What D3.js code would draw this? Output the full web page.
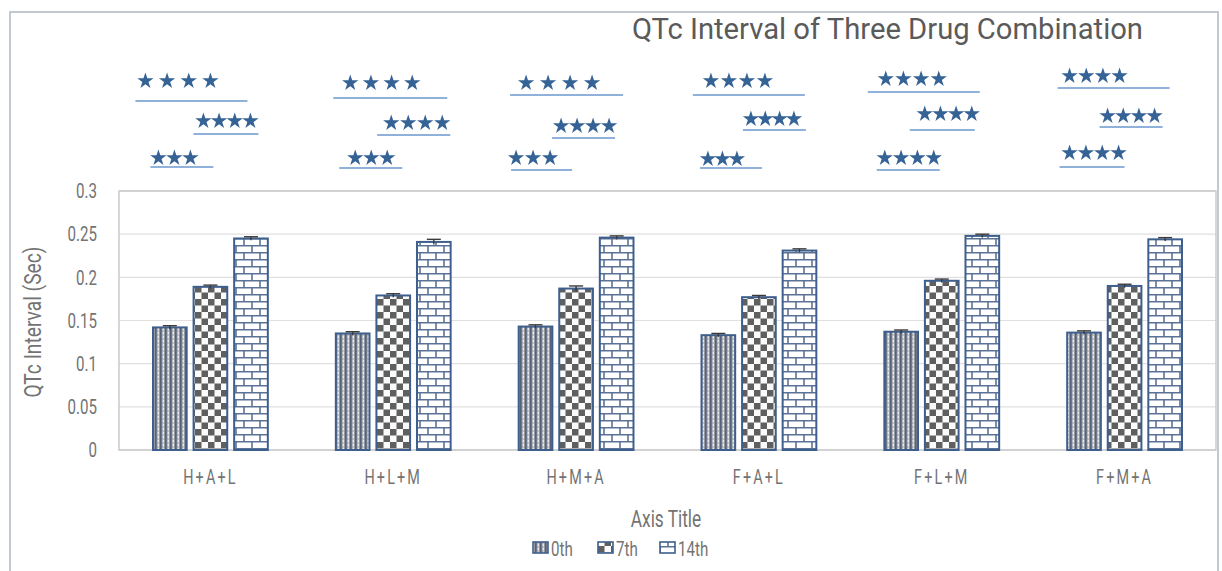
<!DOCTYPE html>
<html>
<head>
<meta charset="utf-8">
<script src="https://cdn.jsdelivr.net/npm/d3@7"></script>
<style>
  html, body { margin: 0; padding: 0; background: #fff; }
  svg { display: block; }
  text { font-family: "Roboto", "DejaVu Sans", sans-serif; font-weight: 400; }
</style>
</head>
<body>
<svg id="chart" width="1222" height="571"></svg>
<script>
// ---- data ----
const categories = ["H+A+L", "H+L+M", "H+M+A", "F+A+L", "F+L+M", "F+M+A"];
const seriesNames = ["0th", "7th", "14th"];
const day0  = [0.142, 0.135, 0.143, 0.133, 0.137, 0.136];
const day7  = [0.189, 0.179, 0.187, 0.177, 0.196, 0.190];
const day14 = [0.245, 0.241, 0.246, 0.231, 0.248, 0.244];
const err0  = [0.002, 0.002, 0.002, 0.002, 0.002, 0.002];
const err7  = [0.002, 0.002, 0.003, 0.002, 0.002, 0.002];
const err14 = [0.002, 0.003, 0.002, 0.002, 0.002, 0.002];
const yTicks = [0, 0.05, 0.1, 0.15, 0.2, 0.25, 0.3];
const yTickLabels = ["0", "0.05", "0.1", "0.15", "0.2", "0.25", "0.3"];

// significance marks: 0th vs 14th, 7th vs 14th, 0th vs 7th
const sig0vs14 = ["****", "****", "****", "****", "****", "****"];
const sig7vs14 = ["****", "****", "****", "****", "****", "****"];
const sig0vs7  = ["***",  "***",  "***",  "***",  "****", "****"];

// placement of the significance brackets relative to each group centre
// [starsFrom, starsTo, starsY, lineFrom, lineTo, lineY]
const sigLayout = [
  [[-73, 8, 80, -75, 37, 101], [-15, 48, 120, -17, 48, 134], [-60, -12, 157, -60, 3, 167]],
  [[-51, 27, 82, -60, 54, 98], [-10, 57, 122, -16, 57, 135], [-46, 2, 157, -54, 9, 168]],
  [[-58, 24, 82, -66, 47, 95], [-23, 41, 125, -24, 39, 138], [-68, -18, 157, -65, -4, 170]],
  [[-56, 14, 80, -66, 46, 95], [-16, 43, 118, -16, 47, 130], [-59, -14, 158, -59, 3, 168]],
  [[-64, 5, 78, -74, 38, 92], [-25, 38, 113, -32, 33, 130], [-65, 0, 157, -65, -2, 170]],
  [[-63, 3, 75, -67, 45, 88], [-25, 38, 115, -25, 38, 127], [-63, 2, 152, -65, 0, 167]]
];

const values = [day0, day7, day14];
const errors = [err0, err7, err14];

// ---- layout ----
const svg = d3.select("#chart");
const plot = { left: 119, right: 1216, top: 191, bottom: 450 };
const textGrey = "#737373";
const squeeze = 0.72;   // horizontal compression for the narrow lettering

const x = d3.scaleBand().domain(categories).range([plot.left, plot.right]);
const xs = d3.scaleBand().domain(seriesNames)
  .range([x.bandwidth() * 0.186, x.bandwidth() * 0.814]).paddingInner(0.17);
const y = d3.scaleLinear().domain([0, 0.3]).range([plot.bottom, plot.top]);

// narrow text: drawn inside a group that is squeezed horizontally
function narrowText(parent, tx, ty, str, size, anchor, sx) {
  const g = parent.append("g").attr("transform", `translate(${tx},${ty}) scale(${sx || squeeze},1)`);
  return g.append("text").attr("x", 0).attr("y", 0)
    .attr("text-anchor", anchor || "start")
    .attr("font-size", size).attr("fill", textGrey).text(str);
}

// ---- fill patterns ----
const defs = svg.append("defs");

// 0th: fine vertical stripes
const p0 = defs.append("pattern").attr("id", "pat0").attr("patternUnits", "userSpaceOnUse")
  .attr("width", 5).attr("height", 4);
p0.append("rect").attr("width", 5).attr("height", 4).attr("fill", "#959aa2");
p0.append("rect").attr("x", 0).attr("width", 1.6).attr("height", 4).attr("fill", "#56617a");
p0.append("rect").attr("x", 2.6).attr("y", 0).attr("width", 1.4).attr("height", 2).attr("fill", "#ececec");
p0.append("rect").attr("x", 2.6).attr("y", 2).attr("width", 1.4).attr("height", 2).attr("fill", "#c2c5ca");

// 7th: checkerboard
const p1 = defs.append("pattern").attr("id", "pat1").attr("patternUnits", "userSpaceOnUse")
  .attr("width", 13).attr("height", 13);
p1.append("rect").attr("width", 13).attr("height", 13).attr("fill", "#fbfbfb");
p1.append("rect").attr("x", 0).attr("y", 0).attr("width", 6.5).attr("height", 6.5).attr("fill", "#5f5f5f");
p1.append("rect").attr("x", 6.5).attr("y", 6.5).attr("width", 6.5).attr("height", 6.5).attr("fill", "#5f5f5f");

// 14th: horizontal bricks
const p2 = defs.append("pattern").attr("id", "pat2").attr("patternUnits", "userSpaceOnUse")
  .attr("width", 16).attr("height", 14);
p2.append("rect").attr("width", 16).attr("height", 14).attr("fill", "#ffffff");
p2.append("path")
  .attr("d", "M0,0.75H16M0,7.75H16M4,0V7M12,7V14")
  .attr("stroke", "#5b7297").attr("stroke-width", 1.6).attr("fill", "none");

const fills = ["url(#pat0)", "url(#pat1)", "url(#pat2)"];

// ---- outer chart border ----
svg.append("rect").attr("x", 10).attr("y", 12).attr("width", 1208).attr("height", 580)
  .attr("fill", "none").attr("stroke", "#b4bcc6").attr("stroke-width", 1.6);

// ---- gridlines & plot frame ----
svg.append("g").selectAll("line").data(yTicks).join("line")
  .attr("x1", plot.left).attr("x2", plot.right)
  .attr("y1", d => y(d)).attr("y2", d => y(d))
  .attr("stroke", "#e0e0e0").attr("stroke-width", 1.2);

svg.append("rect").attr("x", plot.left).attr("y", plot.top)
  .attr("width", plot.right - plot.left).attr("height", plot.bottom - plot.top)
  .attr("fill", "none").attr("stroke", "#c6c6c6").attr("stroke-width", 1.4);

// ---- y axis (labels squeezed horizontally) ----
const yAxis = d3.axisLeft(y).tickValues(yTicks)
  .tickFormat((d, i) => yTickLabels[i]).tickSize(0).tickPadding(22);
const yg = svg.append("g").attr("transform", `translate(${plot.left},0)`).call(yAxis);
yg.select(".domain").remove();
yg.selectAll("text")
  .attr("font-size", 21).attr("fill", textGrey)
  .attr("font-family", "Roboto, sans-serif")
  .attr("x", -22 / squeeze)
  .attr("transform", `scale(${squeeze},1)`);

// ---- x axis ----
const xAxis = d3.axisBottom(x).tickSize(0).tickPadding(20);
const xg = svg.append("g").attr("transform", `translate(0,${plot.bottom})`).call(xAxis);
xg.select(".domain").remove();
xg.selectAll("text")
  .attr("font-size", 20).attr("fill", textGrey)
  .attr("font-family", "Roboto, sans-serif")
  .attr("letter-spacing", 3)
  .attr("transform", `scale(${squeeze},1)`);

// ---- bars ----
const barData = [];
categories.forEach((c, i) => {
  seriesNames.forEach((s, k) => {
    barData.push({ cat: c, series: s, k, v: values[k][i], e: errors[k][i] });
  });
});

const bars = svg.append("g");
bars.selectAll("rect").data(barData).join("rect")
  .attr("x", d => x(d.cat) + xs(d.series))
  .attr("y", d => y(d.v))
  .attr("width", xs.bandwidth())
  .attr("height", d => y(0) - y(d.v))
  .attr("fill", d => fills[d.k])
  .attr("stroke", "#3e5f8e").attr("stroke-width", 2);

// ---- error bars ----
const eb = svg.append("g").attr("stroke", "#3a3a3a").attr("stroke-width", 1.4);
barData.forEach(d => {
  const cx = x(d.cat) + xs(d.series) + xs.bandwidth() / 2;
  eb.append("line").attr("x1", cx).attr("x2", cx).attr("y1", y(d.v - d.e)).attr("y2", y(d.v + d.e));
  eb.append("line").attr("x1", cx - 7).attr("x2", cx + 7).attr("y1", y(d.v + d.e)).attr("y2", y(d.v + d.e));
});

// ---- significance stars & brackets ----
const starPath = d3.symbol(d3.symbolStar, 82)();
const sigRows = [sig0vs14, sig7vs14, sig0vs7];
const sg = svg.append("g");
categories.forEach((c, i) => {
  const cx = x(c) + x.bandwidth() / 2;
  sigRows.forEach((row, r) => {
    const [s0, s1, sy, l0, l1, ly] = sigLayout[i][r];
    const n = row[i].length;
    const a = cx + s0 + 8, b = cx + s1 - 8;
    const step = n > 1 ? (b - a) / (n - 1) : 0;
    d3.range(n).forEach(j => {
      sg.append("path").attr("d", starPath)
        .attr("transform", `translate(${a + j * step},${sy + 1})`)
        .attr("fill", "#356395");
    });
    sg.append("line").attr("x1", cx + l0).attr("x2", cx + l1)
      .attr("y1", ly).attr("y2", ly)
      .attr("stroke", "#8fb1da").attr("stroke-width", 2);
  });
});

// ---- titles ----
svg.append("text").attr("x", 632).attr("y", 39)
  .attr("font-size", 29).attr("fill", "#5a5a5a").attr("font-weight", 500)
  .attr("textLength", 511).attr("lengthAdjust", "spacingAndGlyphs")
  .text("QTc Interval of Three Drug Combination");

narrowText(svg, 666, 527, "Axis Title", 24, "middle");

const yTitle = svg.append("g").attr("transform", "translate(41,322) rotate(-90)");
narrowText(yTitle, 0, 0, "QTc Interval (Sec)", 24, "middle", 0.8);

// ---- legend ----
const legendX = [533, 598, 660];
const lg = svg.append("g");
seriesNames.forEach((s, k) => {
  lg.append("rect").attr("x", legendX[k]).attr("y", 542).attr("width", 15).attr("height", 11)
    .attr("fill", fills[k]).attr("stroke", "#3e5f8e").attr("stroke-width", 1.6);
  narrowText(lg, legendX[k] + 18, 556, s, 21, "start");
});
</script>
</body>
</html>
